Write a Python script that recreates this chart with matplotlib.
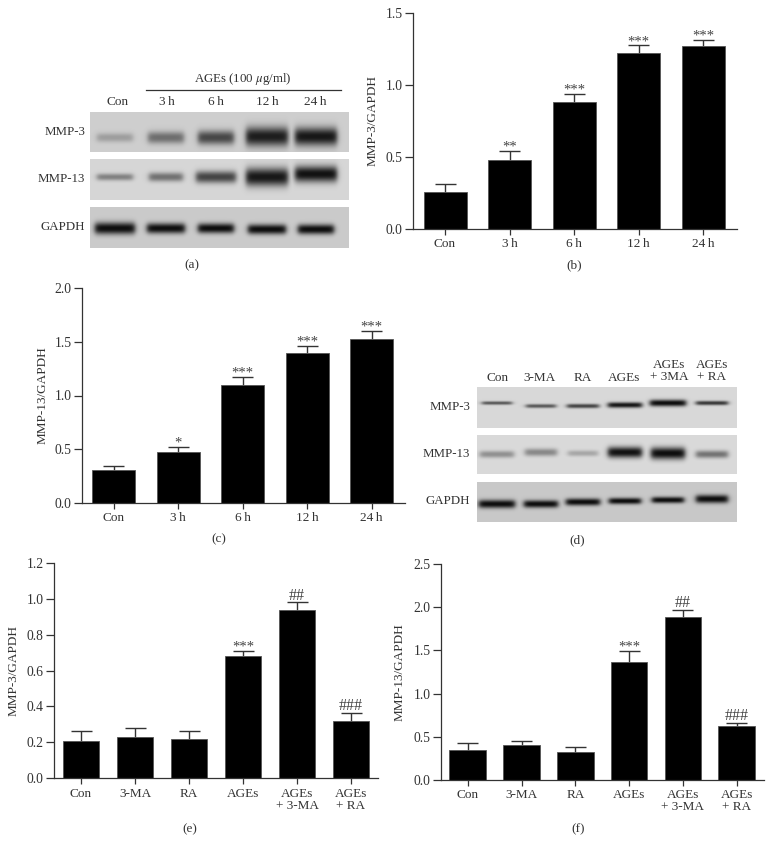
#!/usr/bin/env python3
"""Western blots and densitometry bars for MMP-3 / MMP-13 (panels a-f)."""

import numpy as np
import matplotlib
matplotlib.use("Agg")
import matplotlib.pyplot as plt

plt.rcParams["font.family"] = ["Liberation Serif", "DejaVu Serif"]
plt.rcParams["mathtext.fontset"] = "stix"

W, H = 773, 856
TEXT = "#333333"

# bar panels
time_labels = ["Con", "3\u2009h", "6\u2009h", "12\u2009h", "24\u2009h"]
treat_labels = ["Con", "3-MA", "RA", "AGEs", "AGEs\n+ 3-MA", "AGEs\n+ RA"]

b_values = [0.26, 0.48, 0.88, 1.22, 1.27]
b_tops = [0.31, 0.545, 0.94, 1.275, 1.315]
b_marks = ["", "**", "***", "***", "***"]

c_values = [0.305, 0.475, 1.10, 1.395, 1.53]
c_tops = [0.345, 0.52, 1.175, 1.46, 1.60]
c_marks = ["", "*", "***", "***", "***"]

e_values = [0.205, 0.23, 0.22, 0.68, 0.935, 0.32]
e_tops = [0.26, 0.28, 0.265, 0.71, 0.98, 0.365]
e_marks = ["", "", "", "***", "##", "###"]

f_values = [0.35, 0.40, 0.32, 1.37, 1.885, 0.62]
f_tops = [0.425, 0.45, 0.38, 1.495, 1.965, 0.665]
f_marks = ["", "", "", "***", "##", "###"]

# blot band darkness (0-1), thickness and vertical shift in px, per lane
a_mmp3_dark = [0.25, 0.50, 0.70, 0.92, 0.95]
a_mmp3_thick = [4.5, 6.0, 7.0, 9.5, 9.0]
a_mmp3_shift = [0, 0, 0, -1, -1]
a_mmp13_dark = [0.42, 0.50, 0.72, 0.95, 0.98]
a_mmp13_thick = [3.5, 4.5, 6.0, 9.0, 8.0]
a_mmp13_shift = [0, 0, 0, 0, -3]
a_gapdh_dark = [1.0, 1.0, 1.0, 1.0, 1.0]
a_gapdh_thick = [6.0, 5.2, 5.0, 5.0, 5.0]
a_gapdh_shift = [0, 0, 0, 1, 1]

d_mmp3_dark = [0.62, 0.62, 0.72, 0.95, 1.0, 0.78]
d_mmp3_thick = [1.8, 2.0, 2.2, 2.8, 3.4, 2.2]
d_mmp3_shift = [-2, 1, 1, 0, -2, -2]
d_mmp13_dark = [0.36, 0.40, 0.25, 0.98, 1.0, 0.50]
d_mmp13_thick = [3.5, 3.8, 3.0, 5.5, 6.0, 3.8]
d_mmp13_shift = [1, -1, 0, -1, 0, 1]
d_gapdh_dark = [1.0, 1.0, 1.0, 1.0, 1.0, 1.0]
d_gapdh_thick = [4.2, 3.8, 3.6, 3.2, 3.2, 4.2]
d_gapdh_shift = [2, 2, 0, -1, -2, -3]


def px_axes(fig, left, top, right, bottom):
    return fig.add_axes([left / W, 1 - bottom / H, (right - left) / W, (bottom - top) / H])


def bar_panel(fig, box, first, step, bar_w, ymax, yticks, values, tops, labels, marks, ylabel, ylabel_x, pad=2.0):
    left, top, right, bottom = box
    ax = px_axes(fig, left, top, right, bottom)
    x = np.arange(len(values))
    ax.bar(x, values, width=bar_w / step, color="black", edgecolor="#555555", linewidth=0.6, zorder=2)
    ax.vlines(x, values, tops, color=TEXT, linewidth=1.0, zorder=1)
    ax.hlines(tops, x - 10.5 / step, x + 10.5 / step, color=TEXT, linewidth=1.0, zorder=1)
    ax.set_xlim((left - first) / step, (right - first) / step)
    ax.set_ylim(0, ymax)
    ax.set_xticks(x)
    ax.set_xticklabels(labels, fontsize=9.5, color=TEXT, linespacing=0.98)
    ax.set_yticks(yticks)
    ax.set_yticklabels([f"{t:.1f}" for t in yticks], fontsize=9.8, color=TEXT)
    ax.tick_params(axis="x", length=4.5, width=0.9, color=TEXT, pad=pad)
    ax.tick_params(axis="y", length=6, width=0.9, color=TEXT, pad=1.5)
    for side in ["top", "right"]:
        ax.spines[side].set_visible(False)
    for side in ["left", "bottom"]:
        ax.spines[side].set_linewidth(0.9)
        ax.spines[side].set_color(TEXT)
    for i, mark in enumerate(marks):
        if not mark:
            continue
        dy = -2.0 if "*" in mark else -0.8
        size = 10.5 if "*" in mark else 11.5
        ax.annotate(mark, (x[i], tops[i]), xytext=(0, dy), textcoords="offset points",
                    ha="center", va="bottom", fontsize=size, color="#444444")
    fig.text(ylabel_x / W, 1 - (top + bottom) / 2 / H, ylabel, rotation=90, ha="center", va="center",
             fontsize=9.5, color=TEXT)
    return ax


def blot_row(bg_ax, box, bg, centers, half_w, dark, thick, shift, y_frac):
    """One membrane strip, bands built from the per-lane darkness and thickness."""
    left, top, right, bottom = box
    xs = np.arange(left, right) + 0.5
    ys = np.arange(top, bottom) + 0.5
    img = np.zeros((len(ys), len(xs)))
    yc = top + (bottom - top) * y_frac
    for c, hw, d, t, s in zip(centers, half_w, dark, thick, shift):
        prof_x = 0.5 * (np.tanh((xs - c + hw) / 3.0) - np.tanh((xs - c - hw) / 3.0))
        prof_y = np.exp(-np.abs((ys - yc - s) / t) ** 2.2)
        img = np.maximum(img, d * np.outer(prof_y, prof_x))
    shade = bg * (1 - img) + 14 * img
    bg_ax.imshow(shade, extent=(left, right, bottom, top), cmap="gray", vmin=0, vmax=255,
                 interpolation="bilinear", aspect="auto", zorder=1)


def label(bg_ax, x, y, s, ha="center", size=9.5):
    bg_ax.text(x, y, s, ha=ha, va="center", fontsize=size, color=TEXT, zorder=3, linespacing=0.98)


def main():
    fig = plt.figure(figsize=(W / 100, H / 100), dpi=100)

    bg_ax = fig.add_axes([0, 0, 1, 1])

    # panel (a)
    lanes_a = [115, 166, 216, 267, 316]
    blot_row(bg_ax, (90, 112, 349, 152), 206, lanes_a, [18, 18, 18, 21, 21],
             a_mmp3_dark, a_mmp3_thick, a_mmp3_shift, 0.64)
    blot_row(bg_ax, (90, 159, 349, 200), 214, lanes_a, [18, 17, 20, 21, 21],
             a_mmp13_dark, a_mmp13_thick, a_mmp13_shift, 0.44)
    blot_row(bg_ax, (90, 207, 349, 248), 203, lanes_a, [20, 19, 18, 19, 18],
             a_gapdh_dark, a_gapdh_thick, a_gapdh_shift, 0.52)
    for x, s in zip([118, 167, 216, 267, 315], time_labels):
        label(bg_ax, x, 102, s)
    bg_ax.plot([146, 341], [90, 90], color=TEXT, linewidth=0.9, zorder=3)
    label(bg_ax, 243, 79, r"AGEs (100 $\mu$g/ml)", size=9.3)
    label(bg_ax, 85, 132, "MMP-3", ha="right", size=9.3)
    label(bg_ax, 85, 179, "MMP-13", ha="right", size=9.3)
    label(bg_ax, 85, 227, "GAPDH", ha="right", size=9.3)
    label(bg_ax, 192, 265, "(a)")

    # panel (d)
    lanes_d = [497, 541, 583, 625, 668, 712]
    blot_row(bg_ax, (477, 387, 737, 428), 216, lanes_d, [15, 15, 16, 17, 18, 16],
             d_mmp3_dark, d_mmp3_thick, d_mmp3_shift, 0.44)
    blot_row(bg_ax, (477, 435, 737, 474), 218, lanes_d, [17, 16, 15, 17, 17, 16],
             d_mmp13_dark, d_mmp13_thick, d_mmp13_shift, 0.47)
    blot_row(bg_ax, (477, 482, 737, 522), 200, lanes_d, [18, 17, 17, 16, 16, 16],
             d_gapdh_dark, d_gapdh_thick, d_gapdh_shift, 0.50)
    for x, s in zip([498, 540, 583, 624], ["Con", "3-MA", "RA", "AGEs"]):
        label(bg_ax, x, 378, s)
    label(bg_ax, 669, 371, "AGEs\n+ 3MA")
    label(bg_ax, 712, 371, "AGEs\n+ RA")
    label(bg_ax, 470, 407, "MMP-3", ha="right", size=9.3)
    label(bg_ax, 470, 454, "MMP-13", ha="right", size=9.3)
    label(bg_ax, 470, 501, "GAPDH", ha="right", size=9.3)
    label(bg_ax, 577, 540, "(d)")

    bg_ax.set_xlim(0, W)
    bg_ax.set_ylim(H, 0)
    bg_ax.axis("off")

    # bar panels
    bar_panel(fig, (413, 13, 737, 229), 445, 64.5, 43, 1.5, [0.0, 0.5, 1.0, 1.5],
              b_values, b_tops, time_labels, b_marks, "MMP-3/GAPDH", 373)
    bar_panel(fig, (82, 288, 405, 503), 113.5, 64.5, 43, 2.0, [0.0, 0.5, 1.0, 1.5, 2.0],
              c_values, c_tops, time_labels, c_marks, "MMP-13/GAPDH", 43)
    bar_panel(fig, (54, 563, 378, 778), 81, 54, 36.7, 1.2, [0.0, 0.2, 0.4, 0.6, 0.8, 1.0, 1.2],
              e_values, e_tops, treat_labels, e_marks, "MMP-3/GAPDH", 14, pad=3.0)
    bar_panel(fig, (441, 564, 764, 780), 467.7, 53.8, 36.7, 2.5, [0.0, 0.5, 1.0, 1.5, 2.0, 2.5],
              f_values, f_tops, treat_labels, f_marks, "MMP-13/GAPDH", 400)

    label(bg_ax, 574, 265, "(b)")
    label(bg_ax, 219, 539, "(c)")
    label(bg_ax, 190, 829, "(e)")
    label(bg_ax, 578, 829, "(f)")

    fig.savefig("out.png", dpi=100)


if __name__ == "__main__":
    main()
